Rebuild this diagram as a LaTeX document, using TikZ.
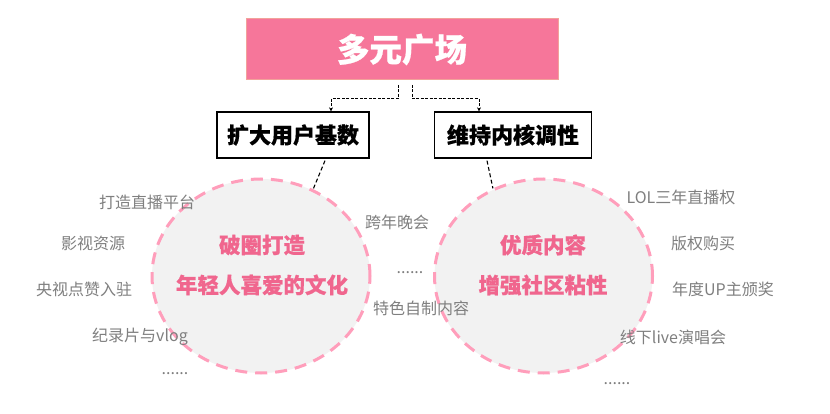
\documentclass[tikz,border=0pt]{standalone}
\usepackage{fontspec}
\setmainfont{Noto Sans CJK SC}[BoldFeatures={FakeBold=0.6}]
\usetikzlibrary{arrows.meta,calc,shapes.geometric}
\definecolor{pinkfill}{HTML}{F6769A}
\definecolor{pinkedge}{HTML}{F2A29A}
\definecolor{pinktext}{HTML}{F0668E}
\definecolor{pinkdash}{HTML}{FF9EBB}
\definecolor{circfill}{HTML}{F2F2F2}
\definecolor{graytext}{HTML}{7F7F7F}
\tikzset{
  topbox/.style={draw=pinkedge, line width=1pt, fill=pinkfill, text=white, font=\bfseries\fontsize{32.5}{36}\selectfont, minimum width=312pt, minimum height=61pt, inner sep=0pt},
  subbox/.style={draw=black, line width=1.3pt, fill=white, font=\bfseries\fontsize{22}{26}\selectfont, minimum height=46pt, inner sep=0pt},
  circ/.style={ellipse, draw=pinkdash, line width=3pt, dash pattern=on 12pt off 8pt, fill=circfill, minimum width=218pt, minimum height=194pt, inner sep=0pt},
  circtext/.style={text=pinktext, font=\bfseries\fontsize{21.5}{40}\selectfont, align=center},
  lbl/.style={text=graytext, font=\fontsize{16}{19}\selectfont, inner sep=0pt},
  conn/.style={draw=black, line width=1.1pt, dash pattern=on 4pt off 2.5pt},
  arr/.style={draw=black, line width=1pt, dash pattern=on 3pt off 1.5pt, -{Stealth[length=4pt,width=4pt]}}
}
\begin{document}
\begin{tikzpicture}[x=1pt,y=-1pt]
\useasboundingbox[fill=white] (0,0) rectangle (830,414);
\node[topbox] (top) at (402,49.5) {多元广场};
\node[subbox, minimum width=152pt] (lbox) at (293,135) {扩大用户基数};
\node[subbox, minimum width=157pt] (rbox) at (513,135) {维持内核调性};
\coordinate (ls) at (398,85);
\coordinate (rs) at (412,85);
\draw[arr] (ls) -- (398,99) -| (lbox.north -| 331,0);
\draw[arr] (rs) -- (412,99) -| (rbox.north -| 479,0);
\node[circ] (lcirc) at (261,276) {};
\node[circ] (rcirc) at (543.5,276) {};
\draw[conn] ($(lbox.south)+(32,2)$) -- (lcirc.59);
\draw[conn] ($(rbox.south)+(-26,2)$) -- (rcirc.120);
\node[circtext] (lt) at (262,265) {破圈打造\\年轻人喜爱的文化};
\node[circtext] (rt) at (543,265) {优质内容\\增强社区粘性};
\node[lbl] (a1) at (147,202) {打造直播平台};
\node[lbl] (a2) at (93,243) {影视资源};
\node[lbl] (a3) at (84,289) {央视点赞入驻};
\node[lbl] (a4) at (140,337) {纪录片与vlog};
\node[lbl] (a5) at (175,374) {......};
\node[lbl] (b1) at (397,222) {跨年晚会};
\node[lbl] (b2) at (410,273) {......};
\node[lbl] (b3) at (421,308) {特色自制内容};
\node[lbl] (c1) at (681,197) {LOL三年直播权};
\node[lbl] (c2) at (703,243) {版权购买};
\node[lbl] (c3) at (723,289) {年度UP主颁奖};
\node[lbl] (c4) at (673,337) {线下live演唱会};
\node[lbl] (c5) at (617,384) {......};
\end{tikzpicture}
\end{document}
